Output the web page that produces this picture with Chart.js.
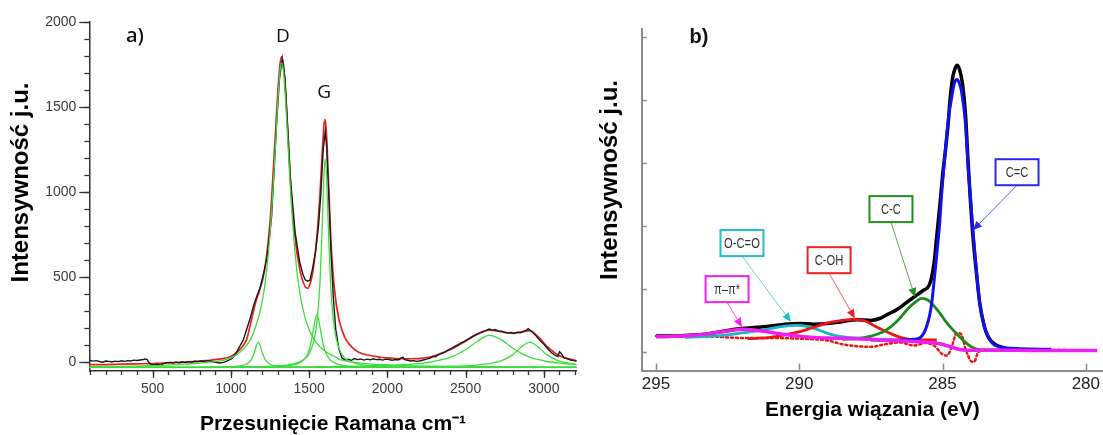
<!DOCTYPE html>
<html><head><meta charset="utf-8">
<script src="https://cdn.jsdelivr.net/npm/chart.js@4.4.1/dist/chart.umd.min.js"></script>
<style>
html,body{margin:0;padding:0;background:#fff;width:1103px;height:435px;overflow:hidden}
#wa{position:absolute;left:0;top:0;width:585px;height:435px}
#wb{position:absolute;left:590px;top:0;width:513px;height:435px}
canvas{display:block}
</style></head><body>
<div id="wa"><canvas id="ca" width="585" height="435" style="width:585px;height:435px"></canvas></div>
<div id="wb"><canvas id="cb" width="513" height="435" style="width:513px;height:435px"></canvas></div>
<script>
// ---------- Panel a) Raman ----------
const ramanXTicks = [500, 1000, 1500, 2000, 2500, 3000];
const ramanYTicks = [0, 500, 1000, 1500, 2000];

const ramanX = [95,200,300,400,500,600,700,800,900,1000,
  1050,1100,1130,1150,1165,1175,1185,1200,1220,1250,
  1280,1300,1315,1325,1340,1355,1380,1410,1440,1470,
  1490,1510,1530,1550,1570,1585,1595,1603,1612,1625,
  1640,1660,1690,1730,1800,1900,2000,2100,2200,2300,
  2400,2500,2575,2650,2725,2800,2860,2910,2960,3020,
  3100,3210];

const ramanFit = [-18,-17,-15,-13,-11,-7,-3,3,12,30,
  65,130,240,320,370,395,425,470,565,820,
  1270,1590,1760,1797,1715,1500,1075,730,545,450,
  432,470,570,740,1000,1250,1395,1425,1320,1030,
  700,440,250,140,65,35,22,17,18,35,
  70,122,162,185,178,167,175,183,150,90,
  35,5];

const ramanBand1175 = [-34,-34,-34,-34,-34,-34,-34,-34,-33,-31,
  -27,-14,11,54,100,115,100,54,11,-14,
  -24,-27,-28,-29,-30,-31,-31,-33,-33,-34,
  -34,-34,-34,-34,-34,-34,-34,-34,-34,-34,
  -34,-34,-34,-34,-34,-34,-34,-34,-34,-34,
  -34,-34,-34,-34,-34,-34,-34,-34,-34,-34,
  -34,-34];

const ramanBandD = [-30,-29,-28,-26,-24,-20,-15,-8,0,22,
  50,95,140,185,226,256,291,356,473,749,
  1190,1535,1720,1760,1672,1453,1025,640,409,273,
  213,168,134,107,87,74,66,61,55,48,
  40,32,15,5,-6,-14,-19,-23,-25,-27,
  -28,-29,-30,-30,-31,-31,-31,-31,-32,-32,
  -32,-32];

const ramanBand1550 = [-34,-34,-34,-34,-34,-34,-34,-34,-33,-33,
  -33,-33,-33,-33,-33,-32,-32,-32,-32,-31,
  -30,-29,-28,-28,-27,-25,-22,-17,-6,15,
  44,101,201,278,201,122,83,60,41,21,
  6,-6,-17,-24,-29,-32,-33,-34,-34,-34,
  -34,-34,-34,-34,-34,-34,-34,-34,-34,-34,
  -34,-34];

const ramanBandG = [-34,-34,-34,-34,-34,-34,-34,-34,-34,-32,
  -32,-31,-31,-30,-30,-30,-29,-29,-28,-27,
  -26,-25,-24,-23,-22,-20,-16,-10,-1,17,
  32,67,123,233,479,835,1101,1194,1079,725,
  413,204,80,19,-11,-24,-29,-31,-32,-33,
  -33,-33,-33,-34,-34,-34,-34,-34,-34,-34,
  -34,-34];

const ramanBand2650 = [-34,-34,-34,-34,-34,-34,-34,-34,-34,-33,
  -33,-33,-33,-33,-33,-33,-33,-33,-33,-33,
  -32,-32,-32,-32,-32,-32,-32,-32,-32,-32,
  -31,-31,-31,-30,-30,-30,-30,-30,-30,-30,
  -30,-30,-29,-29,-27,-25,-22,-18,-11,2,
  25,70,120,155,131,80,47,27,13,1,
  -9,-17];

const ramanBand2900 = [-34,-34,-34,-34,-34,-34,-34,-34,-34,-34,
  -34,-34,-34,-34,-34,-34,-34,-34,-34,-34,
  -34,-34,-34,-34,-34,-34,-34,-34,-34,-34,
  -34,-34,-34,-34,-34,-34,-34,-34,-34,-34,
  -34,-34,-34,-34,-34,-34,-34,-33,-32,-30,
  -28,-25,-20,-12,4,40,89,115,89,40,
  3,-17];

const ramanExpX = [95,120,140,160,180,200,220,240,260,280,
  300,320,340,360,380,400,420,440,455,465,
  475,490,510,530,550,570,590,610,630,650,
  670,690,710,730,750,770,790,810,830,850,
  870,890,910,930,950,970,990,1010,1040,1080,
  1120,1145,1167,1185,1200,1230,1260,1290,1310,1328,
  1345,1360,1380,1410,1440,1460,1475,1490,1505,1520,
  1540,1560,1575,1590,1603,1612,1625,1640,1655,1670,
  1690,1710,1730,1750,1770,1790,1810,1830,1850,1870,
  1890,1910,1930,1950,1970,1990,2010,2030,2050,2070,
  2090,2100,2110,2130,2150,2170,2190,2210,2230,2250,
  2270,2290,2310,2330,2350,2370,2390,2410,2430,2450,
  2470,2490,2510,2530,2550,2570,2590,2610,2630,2650,
  2670,2690,2710,2730,2750,2770,2790,2810,2830,2850,
  2870,2890,2900,2910,2930,2950,2970,2990,3010,3030,
  3050,3070,3090,3100,3110,3130,3150,3170,3190,3210];

const ramanExpY = [8,3,6,1,-3,4,2,-2,3,0,
  5,2,6,4,9,7,10,13,16,12,
  -4,-16,-18,-14,-20,-12,-6,-4,-8,-3,
  -6,-2,-5,0,-3,2,0,4,1,6,
  3,-2,-5,-8,-4,2,10,20,62,130,
  245,330,390,430,485,610,850,1370,1660,1785,
  1670,1430,1080,765,585,515,482,474,480,540,
  640,800,990,1250,1356,1265,990,640,370,190,
  75,22,10,14,8,18,12,16,9,15,
  11,17,12,14,9,15,12,8,13,10,
  22,26,12,8,4,6,2,5,10,15,
  20,28,30,42,50,58,70,78,90,98,
  110,118,130,140,152,160,170,176,184,192,
  186,189,180,178,172,168,172,166,174,170,
  178,186,194,186,172,152,130,112,92,70,
  52,38,30,58,50,22,18,10,6,4];

// ---------- Panel b) XPS C1s ----------
const xpsXTicks = [295, 290, 285, 280];
const xpsYTicks = [0, 1, 2, 3, 4, 5];
const xpsLabels = ['C=C', 'C-C', 'O-C=O', 'C-OH', 'π–π*'];

const xpsEnvX = [295.0,294.5,294.0,293.5,293.0,292.5,292.0,291.5,291.0,290.5,290.0,289.5,289.0,288.5,288.0,287.5,287.2,286.9,286.6,286.3,286.0,285.7,285.44,285.3,285.2,285.09,285.0,284.9,284.8,284.74,284.65,284.57,284.49,284.4,284.3,284.2,284.1,283.95,283.8,283.7,283.55,283.45,283.3,283.1,282.8];
const xpsEnvY = [0.25,0.25,0.26,0.27,0.30,0.34,0.37,0.39,0.41,0.44,0.45,0.44,0.45,0.48,0.51,0.50,0.53,0.60,0.67,0.77,0.87,0.97,1.09,1.40,1.85,2.35,2.80,3.20,3.65,4.00,4.35,4.50,4.56,4.48,4.25,3.78,2.95,1.90,1.18,0.77,0.42,0.28,0.17,0.10,0.06];

const xpsCCdX = [287.5,287.0,286.5,286.0,285.8,285.65,285.56,285.45,285.38,285.3,285.2,285.1,285.03,284.95,284.86,284.77,284.68,284.6,284.51,284.42,284.33,284.21,284.1,283.93,283.8,283.7,283.55,283.46,283.3,283.17,283.0,282.76,282.3,281.2];
const xpsCCdY = [0.19,0.19,0.19,0.20,0.22,0.30,0.40,0.58,0.77,1.10,1.56,2.05,2.52,2.95,3.42,3.80,4.05,4.25,4.33,4.28,4.12,3.68,2.89,1.88,1.20,0.77,0.42,0.29,0.16,0.106,0.08,0.06,0.05,0.04];

const xpsCCsX = [288.5,288.0,287.5,287.1,286.8,286.5,286.2,285.95,285.73,285.5,285.3,285.1,284.85,284.6,284.4,284.2,284.0,283.8,283.5,283.0,282.8];
const xpsCCsY = [0.20,0.21,0.25,0.31,0.40,0.53,0.69,0.79,0.85,0.82,0.73,0.62,0.46,0.33,0.24,0.15,0.08,0.045,0.03,0.03,0.03];

const xpsCOHX = [291.8,291.5,291.0,290.5,290.0,289.5,289.0,288.5,288.1,287.7,287.4,287.0,286.6,286.3,285.9,285.5,285.2];
const xpsCOHY = [0.21,0.215,0.23,0.27,0.32,0.39,0.46,0.50,0.515,0.49,0.42,0.33,0.25,0.21,0.19,0.19,0.19];

const xpsOCOX = [294.0,293.5,293.0,292.5,292.0,291.5,291.0,290.5,290.1,289.7,289.4,289.1,288.8,288.4,288.0,287.5];
const xpsOCOY = [0.23,0.24,0.25,0.27,0.30,0.33,0.37,0.41,0.42,0.40,0.36,0.31,0.265,0.235,0.22,0.21];

const xpsPiX = [295.0,294.5,294.0,293.5,293.0,292.5,292.0,291.5,291.0,290.5,290.0,289.5,289.0,288.0,287.2,286.5,286.0,285.5,285.1,284.8,284.5,284.3,284.0,283.0,282.0,281.0,280.0,279.6];
const xpsPiY = [0.24,0.245,0.255,0.27,0.30,0.33,0.36,0.345,0.31,0.275,0.25,0.23,0.22,0.21,0.19,0.175,0.165,0.15,0.13,0.09,0.05,0.03,0.025,0.025,0.022,0.02,0.02,0.02];

const xpsResX = [295.0,294.0,293.0,292.0,291.0,290.0,289.5,289.0,288.5,288.0,287.5,287.0,286.5,286.0,285.6,285.3,285.0,284.85,284.7,284.5,284.35,284.2,284.0,283.9,283.75,283.5,283.0,282.0,281.0,280.2];
const xpsResY = [0.25,0.24,0.24,0.22,0.22,0.21,0.20,0.18,0.12,0.09,0.08,0.12,0.15,0.10,0.14,0.10,-0.04,-0.06,0.05,0.30,0.28,0.05,-0.15,-0.16,0.0,0.03,0.03,0.03,0.03,0.02];

// ---------- helpers ----------
const pts = (xs, ys) => xs.map((x, i) => ({x: x, y: ys[i]}));
const range = (a, b, s) => { const r = []; for (let v = a; v <= b + 1e-9; v += s) r.push(v); return r; };
const fixedTicks = arr => (s => { s.ticks = arr.map(v => ({value: v})); });

const tickPlugin = {
  id: 'axisTicks',
  afterDraw(chart, args, opts) {
    const ctx = chart.ctx;
    (opts.axes || []).forEach(a => {
      const s = chart.scales[a.id];
      ctx.save();
      ctx.strokeStyle = a.color; ctx.lineWidth = a.width;
      const draw = (vals, len) => vals.forEach(v => {
        if (v < s.min - 1e-9 || v > s.max + 1e-9) return;
        const p = Math.round(s.getPixelForValue(v)) + 0.5;
        ctx.beginPath();
        if (s.isHorizontal()) { const y0 = s.top; ctx.moveTo(p, y0); ctx.lineTo(p, y0 + a.dir * len); }
        else { const x0 = s.right; ctx.moveTo(x0, p); ctx.lineTo(x0 + a.dir * len, p); }
        ctx.stroke();
      });
      draw(a.minor || [], a.minorLen || 0);
      draw(a.major || [], a.majorLen || 0);
      ctx.restore();
    });
    const t = opts.yTitle;
    if (t) {
      const ca = chart.chartArea;
      ctx.save();
      ctx.translate(ca.left - t.gap, (ca.top + ca.bottom) / 2 - t.shift);
      ctx.rotate(-Math.PI / 2);
      ctx.font = t.font; ctx.fillStyle = t.color;
      ctx.textAlign = 'center'; ctx.textBaseline = 'middle';
      ctx.fillText(t.text, 0, 0);
      ctx.restore();
    }
  }
};

const notePlugin = {
  id: 'panelNotes',
  afterDatasetsDraw(chart, args, opts) {
    const ctx = chart.ctx, sx = chart.scales.x, sy = chart.scales.y;
    ctx.save();
    (opts.boxes || []).forEach(b => {
      const cx = sx.getPixelForValue(b.x), cy = sy.getPixelForValue(b.y);
      const tx = sx.getPixelForValue(b.tipX), ty = sy.getPixelForValue(b.tipY);
      const x0 = cx - b.w / 2, y0 = cy - b.h / 2;
      const ax = cx, ay = y0 + b.h;
      const ang = Math.atan2(ty - ay, tx - ax);
      const L = 9, W = 4;
      const bx = tx - L * Math.cos(ang), by = ty - L * Math.sin(ang);
      ctx.strokeStyle = b.arrowColor; ctx.lineWidth = 1;
      ctx.beginPath(); ctx.moveTo(ax, ay); ctx.lineTo(bx, by); ctx.stroke();
      ctx.fillStyle = b.color;
      ctx.beginPath(); ctx.moveTo(tx, ty);
      ctx.lineTo(bx + W * Math.sin(ang), by - W * Math.cos(ang));
      ctx.lineTo(bx - W * Math.sin(ang), by + W * Math.cos(ang));
      ctx.closePath(); ctx.fill();
      ctx.fillStyle = '#fff'; ctx.fillRect(x0, y0, b.w, b.h);
      ctx.strokeStyle = b.color; ctx.lineWidth = 2; ctx.strokeRect(x0, y0, b.w, b.h);
      ctx.save();
      ctx.translate(cx, cy + 1);
      ctx.scale(0.8, 1);
      ctx.fillStyle = b.textColor; ctx.font = b.font;
      ctx.textAlign = 'center'; ctx.textBaseline = 'middle';
      ctx.fillText(b.text, 0, 0);
      ctx.restore();
    });
    (opts.texts || []).forEach(t => {
      ctx.fillStyle = t.color; ctx.font = t.font;
      ctx.textAlign = 'center'; ctx.textBaseline = 'middle';
      ctx.fillText(t.text, sx.getPixelForValue(t.x), sy.getPixelForValue(t.y));
    });
    ctx.restore();
  }
};

Chart.defaults.font.family = '"Liberation Sans", Arial, sans-serif';

const GREEN = '#3cdc3c';
const greenSet = (label, ys) => ({label, data: pts(ramanX, ys), borderColor: GREEN, borderWidth: 1.3, order: 0, cubicInterpolationMode: 'monotone'});
const boxFont = '14px "Liberation Sans", Arial, sans-serif';

// ---------- Chart a ----------
new Chart(document.getElementById('ca'), {
  type: 'line',
  data: { datasets: [
    greenSet('Pasmo ~1175', ramanBand1175),
    greenSet('Pasmo D', ramanBandD),
    greenSet('Pasmo ~1550', ramanBand1550),
    greenSet('Pasmo G', ramanBandG),
    greenSet('Pasmo 2D', ramanBand2650),
    greenSet('Pasmo D+G', ramanBand2900),
    {label: 'Widmo', data: pts(ramanExpX, ramanExpY), borderColor: '#1a1a1a', borderWidth: 1.4, order: 1, tension: 0},
    {label: 'Dopasowanie', data: pts(ramanX, ramanFit), borderColor: '#e8201e', borderWidth: 1.7, order: 2, cubicInterpolationMode: 'monotone'}
  ]},
  options: {
    responsive: false, animation: false, devicePixelRatio: 1,
    layout: {padding: {top: 22, right: 8.3, left: 0, bottom: 0}},
    elements: {point: {radius: 0}},
    plugins: {
      legend: {display: false}, tooltip: {enabled: false},
      axisTicks: {
        axes: [
          {id: 'x', dir: 1, color: '#333', width: 1.3, major: ramanXTicks, majorLen: 7, minor: range(100, 3200, 100), minorLen: 4},
          {id: 'y', dir: -1, color: '#333', width: 1.3, major: ramanYTicks, majorLen: 10, minor: range(0, 2000, 100), minorLen: 5}
        ],
        yTitle: {text: 'Intensywność j.u.', font: 'bold 24px "Liberation Sans", Arial, sans-serif', color: '#000', gap: 68, shift: 14}
      },
      panelNotes: {texts: [
        {text: 'a)', x: 387, y: 1913, font: '600 20px "Open Sans", sans-serif', color: '#111'},
        {text: 'D', x: 1332, y: 1913, font: '19px "Open Sans", sans-serif', color: '#111'},
        {text: 'G', x: 1596, y: 1584, font: '19px "Open Sans", sans-serif', color: '#111'}
      ]}
    },
    scales: {
      x: {
        type: 'linear', min: 95, max: 3210,
        afterBuildTicks: fixedTicks(ramanXTicks),
        afterFit: s => { s.height = 64; },
        grid: {display: false, drawTicks: false},
        border: {display: true, color: '#333', width: 1.5},
        ticks: {autoSkip: false, maxRotation: 0, padding: 10, color: '#3a3a3a', font: {size: 14},
          callback: v => String(v)},
        title: {display: true, text: 'Przesunięcie Ramana cm⁻¹', color: '#000', font: {size: 21, weight: 'bold', lineHeight: 1}, padding: {top: 0, bottom: 0}}
      },
      y: {
        type: 'linear', min: -55, max: 2000,
        afterBuildTicks: fixedTicks(ramanYTicks),
        afterFit: s => { s.width = 89.3; },
        grid: {display: false, drawTicks: false},
        border: {display: true, color: '#333', width: 1.5},
        ticks: {autoSkip: false, padding: 13, color: '#3a3a3a', font: {size: 14},
          callback: v => String(v)},
        title: {display: false}
      }
    }
  },
  plugins: [tickPlugin, notePlugin]
});

// ---------- Chart b ----------
const mono = {cubicInterpolationMode: 'monotone'};
new Chart(document.getElementById('cb'), {
  type: 'line',
  data: { datasets: [
    Object.assign({label: 'π–π*', data: pts(xpsPiX, xpsPiY), borderColor: '#f01ef0', borderWidth: 3.5, order: 0}, mono),
    Object.assign({label: 'C=C', data: pts(xpsCCdX, xpsCCdY), borderColor: '#1010f0', borderWidth: 3, order: 1}, mono),
    Object.assign({label: 'C-C', data: pts(xpsCCsX, xpsCCsY), borderColor: '#1c8a1c', borderWidth: 2.8, order: 2}, mono),
    Object.assign({label: 'C-OH', data: pts(xpsCOHX, xpsCOHY), borderColor: '#ee1414', borderWidth: 2.8, order: 3}, mono),
    Object.assign({label: 'O-C=O', data: pts(xpsOCOX, xpsOCOY), borderColor: '#1eb4c4', borderWidth: 2.8, order: 4}, mono),
    Object.assign({label: 'Residuum', data: pts(xpsResX, xpsResY), borderColor: '#ee1414', borderWidth: 2.5, borderDash: [2, 3], borderCapStyle: 'round', order: 5}, mono),
    Object.assign({label: 'Obwiednia', data: pts(xpsEnvX, xpsEnvY), borderColor: '#000', borderWidth: 3.5, order: 6}, mono)
  ]},
  options: {
    responsive: false, animation: false, devicePixelRatio: 1,
    layout: {padding: {top: 29.3, right: 0, left: 0, bottom: 0}},
    elements: {point: {radius: 0}},
    plugins: {
      legend: {display: false}, tooltip: {enabled: false},
      axisTicks: {
        axes: [
          {id: 'x', dir: -1, color: '#8c8c8c', width: 1.5, major: xpsXTicks, majorLen: 7},
          {id: 'y', dir: 1, color: '#8c8c8c', width: 1.5, major: xpsYTicks, majorLen: 5}
        ],
        yTitle: {text: 'Intensywność j.u.', font: 'bold 24px "Liberation Sans", Arial, sans-serif', color: '#000', gap: 31, shift: 20}
      },
      panelNotes: {
        boxes: [
          {text: xpsLabels[0], x: 282.4, y: 2.857, tipX: 283.94, tipY: 1.935, w: 43, h: 26, color: '#2a2aee', arrowColor: '#5a5aff', textColor: '#333', font: boxFont},
          {text: xpsLabels[1], x: 286.8, y: 2.27, tipX: 285.96, tipY: 0.87, w: 43, h: 26, color: '#1f8f1f', arrowColor: '#5aa55a', textColor: '#333', font: boxFont},
          {text: xpsLabels[2], x: 292.0, y: 1.73, tipX: 290.29, tipY: 0.477, w: 43, h: 26, color: '#22bcc8', arrowColor: '#66cdd4', textColor: '#333', font: boxFont},
          {text: xpsLabels[3], x: 288.96, y: 1.458, tipX: 288.06, tipY: 0.531, w: 43, h: 26, color: '#ee2222', arrowColor: '#f06060', textColor: '#333', font: boxFont},
          {text: xpsLabels[4], x: 292.52, y: 0.997, tipX: 292.0, tipY: 0.393, w: 43, h: 26, color: '#ee22ee', arrowColor: '#f060f0', textColor: '#333', font: boxFont}
        ],
        texts: [
          {text: 'b)', x: 293.5, y: 5.006, font: 'bold 20px "Liberation Sans", sans-serif', color: '#111'}
        ]
      }
    },
    scales: {
      x: {
        type: 'linear', reverse: true, min: 279.4, max: 295.5,
        afterBuildTicks: fixedTicks(xpsXTicks),
        afterFit: s => { s.height = 64.3; },
        grid: {display: false, drawTicks: false},
        border: {display: true, color: '#8c8c8c', width: 2},
        ticks: {autoSkip: false, maxRotation: 0, padding: 3, color: '#222', font: {size: 17},
          callback: v => String(v)},
        title: {display: true, text: 'Energia wiązania (eV)', color: '#000', font: {size: 21, weight: 'bold', lineHeight: 1}, padding: {top: 0, bottom: 14.5}}
      },
      y: {
        type: 'linear', min: -0.3, max: 5.13,
        afterBuildTicks: fixedTicks(xpsYTicks),
        afterFit: s => { s.width = 51.7; },
        grid: {display: false, drawTicks: false},
        border: {display: true, color: '#8c8c8c', width: 2},
        ticks: {display: false},
        title: {display: false}
      }
    }
  },
  plugins: [tickPlugin, notePlugin]
});
</script>
</body></html>
